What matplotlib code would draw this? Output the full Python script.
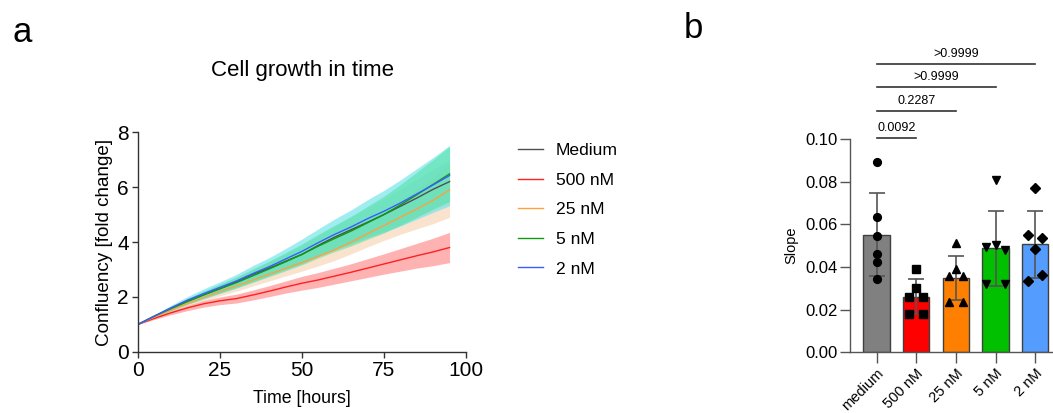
import numpy as np
import matplotlib
matplotlib.use('Agg')
import matplotlib.pyplot as plt

plt.rcParams['font.family'] = ['Liberation Sans', 'DejaVu Sans']

# ---- panel a: confluency over time (mean and SD) ----
hours = [0, 5, 10, 15, 20, 25, 30, 35, 40, 45, 50, 55, 60, 65, 70, 75, 80, 85, 90, 95]

medium_mean = [1.0, 1.3, 1.58, 1.84, 2.08, 2.3, 2.55, 2.82, 3.05, 3.3,
               3.55, 3.88, 4.18, 4.45, 4.72, 5.0, 5.3, 5.6, 5.92, 6.2]
medium_sd = [0, 0.04, 0.07, 0.1, 0.13, 0.16, 0.19, 0.22, 0.25, 0.29,
             0.33, 0.37, 0.41, 0.46, 0.51, 0.56, 0.62, 0.68, 0.74, 0.8]
nm500_mean = [1.0, 1.22, 1.42, 1.6, 1.75, 1.86, 1.94, 2.07, 2.21, 2.36,
              2.5, 2.62, 2.76, 2.9, 3.05, 3.2, 3.35, 3.5, 3.64, 3.8]
nm500_sd = [0, 0.04, 0.07, 0.1, 0.12, 0.14, 0.16, 0.18, 0.2, 0.22,
            0.25, 0.27, 0.29, 0.31, 0.34, 0.37, 0.41, 0.45, 0.5, 0.55]
nm25_mean = [1.0, 1.27, 1.52, 1.76, 1.98, 2.2, 2.4, 2.62, 2.83, 3.04,
             3.25, 3.48, 3.72, 4.0, 4.3, 4.6, 4.9, 5.2, 5.52, 5.9]
nm25_sd = [0, 0.04, 0.07, 0.1, 0.13, 0.16, 0.19, 0.22, 0.25, 0.28,
           0.31, 0.35, 0.39, 0.43, 0.48, 0.54, 0.62, 0.72, 0.85, 1.0]
nm5_mean = [1.0, 1.3, 1.57, 1.83, 2.07, 2.3, 2.52, 2.77, 3.02, 3.28,
            3.55, 3.85, 4.13, 4.4, 4.7, 5.0, 5.35, 5.72, 6.1, 6.48]
nm5_sd = [0, 0.05, 0.08, 0.11, 0.14, 0.17, 0.2, 0.24, 0.28, 0.33,
          0.38, 0.43, 0.48, 0.54, 0.6, 0.67, 0.74, 0.82, 0.9, 1.0]
nm2_mean = [1.0, 1.3, 1.6, 1.88, 2.12, 2.35, 2.58, 2.85, 3.1, 3.38,
            3.66, 3.98, 4.28, 4.55, 4.85, 5.12, 5.42, 5.75, 6.08, 6.42]
nm2_sd = [0, 0.05, 0.09, 0.13, 0.17, 0.2, 0.24, 0.29, 0.33, 0.38,
          0.45, 0.5, 0.56, 0.62, 0.69, 0.76, 0.84, 0.92, 1.0, 1.1]

series_labels = ['Medium', '500 nM', '25 nM', '5 nM', '2 nM']

# ---- panel b: slopes ----
groups = ['medium', '500 nM', '25 nM', '5 nM', '2 nM']
slope_mean = [0.0552, 0.0261, 0.0348, 0.0488, 0.0506]
slope_sd = [0.0195, 0.0082, 0.0105, 0.0175, 0.0158]
slope_points = [
    [0.0894, 0.0636, 0.0547, 0.0463, 0.0425, 0.0345],
    [0.0390, 0.0303, 0.0261, 0.0261, 0.0178, 0.0178],
    [0.0513, 0.0389, 0.0356, 0.0356, 0.0234, 0.0234],
    [0.0808, 0.0502, 0.0494, 0.0480, 0.0322, 0.0322],
    [0.0772, 0.0550, 0.0536, 0.0486, 0.0334, 0.0361],
]
p_labels = ['0.0092', '0.2287', '>0.9999', '>0.9999']

# styling
bar_colors = ['#808080', '#ff0000', '#ff8000', '#00c000', '#559cff']
markers = ['o', 's', '^', 'v', 'D']
point_dx = [
    [0, 0, 0, 0, 0, 0],
    [0, 0, -0.18, 0.18, -0.18, 0.18],
    [0, 0, -0.17, 0.17, -0.17, 0.17],
    [0, 0, -0.25, 0.25, -0.25, 0.25],
    [0, -0.17, 0.17, 0, -0.17, 0.17],
]
sig_y = [0.1006, 0.1133, 0.1244, 0.1352]

fig = plt.figure(figsize=(10.53, 4.13), dpi=100)

# ================= panel a =================
ax = fig.add_axes([0.131, 0.148, 0.3115, 0.532])
t = np.array(hours)
bands = [
    (nm500_mean, nm500_sd, '#ff8080', 0.6),
    (nm25_mean, nm25_sd, '#f5c8a0', 0.5),
    (medium_mean, medium_sd, '#c8c8c8', 0.35),
    (nm2_mean, nm2_sd, '#6ee4ea', 0.65),
    (nm5_mean, nm5_sd, '#48e096', 0.5),
]
for m, s, c, a in bands:
    m = np.array(m)
    s = np.array(s)
    ax.fill_between(t, m - s, m + s, color=c, alpha=a, linewidth=0)

line_colors = ['#505050', '#ff2020', '#ffa040', '#109a10', '#3a5cff']
means = [medium_mean, nm500_mean, nm25_mean, nm5_mean, nm2_mean]
handles = []
for m, c, lab in zip(means, line_colors, series_labels):
    h, = ax.plot(t, m, color=c, lw=1.0, label=lab)
    handles.append(h)

ax.set_xlim(0, 100)
ax.set_ylim(0, 8)
ax.set_xticks([0, 25, 50, 75, 100])
ax.set_yticks([0, 2, 4, 6, 8])
for sp in ['top', 'right']:
    ax.spines[sp].set_visible(False)
for sp in ['left', 'bottom']:
    ax.spines[sp].set_color('#333333')
    ax.spines[sp].set_linewidth(1.0)
ax.tick_params(direction='out', length=4.5, width=1, color='#333333',
               labelsize=15, pad=2)
ax.set_xlabel('Time [hours]', fontsize=12.8, labelpad=7)
ax.set_ylabel('Confluency [fold change]', fontsize=13.6, labelpad=3)

fig.legend(handles=handles, loc='upper left', bbox_to_anchor=(0.477, 0.692),
           frameon=False, fontsize=12.6, handlelength=1.43, handletextpad=0.74,
           labelspacing=0.82)

fig.text(0.287, 0.83, 'Cell growth in time', fontsize=16, ha='center', va='center')
fig.text(0.012, 0.898, 'a', fontsize=25, ha='left', va='baseline')
fig.text(0.649, 0.908, 'b', fontsize=25, ha='left', va='baseline')

# ================= panel b =================
bx = fig.add_axes([0.8072, 0.147, 0.1928, 0.5165])
xs = np.arange(len(groups))
bx.bar(xs, slope_mean, width=0.67, color=bar_colors, edgecolor='#404040',
       linewidth=1.0, zorder=2)
bx.errorbar(xs, slope_mean, yerr=slope_sd, fmt='none', ecolor='#555555',
            elinewidth=1.2, capsize=5.6, capthick=1.2, zorder=3)
for i, pts in enumerate(slope_points):
    px = [xs[i] + d for d in point_dx[i]]
    ms = 4.8 if markers[i] == 'D' else 5.6
    bx.plot(px, pts, linestyle='none', marker=markers[i], color='black',
            markersize=ms, zorder=4, clip_on=False)

for j, (yv, lab) in enumerate(zip(sig_y, p_labels)):
    x_end = xs[j + 1]
    bx.plot([xs[0], x_end], [yv, yv], color='#333333', lw=1.2, clip_on=False)
    bx.text((xs[0] + x_end) / 2, yv + 0.0017, lab, ha='center', va='bottom',
            fontsize=9)

bx.set_xlim(-0.67, 4.45)
bx.set_ylim(0, 0.10)
bx.set_yticks([0, 0.02, 0.04, 0.06, 0.08, 0.10])
bx.set_yticklabels(['%.2f' % v for v in [0, 0.02, 0.04, 0.06, 0.08, 0.10]])
bx.set_xticks(xs)
bx.set_xticklabels(groups, rotation=45, ha='right', rotation_mode='anchor')
for sp in ['top', 'right']:
    bx.spines[sp].set_visible(False)
for sp in ['left', 'bottom']:
    bx.spines[sp].set_color('#555555')
    bx.spines[sp].set_linewidth(1.0)
bx.tick_params(axis='y', direction='out', length=7, width=1, color='#555555',
               labelsize=12, pad=2)
bx.tick_params(axis='x', direction='out', length=8, width=1, color='#555555',
               labelsize=10.5, pad=2)
bx.set_ylabel('Slope', fontsize=10.5, labelpad=5)

fig.savefig('out.png', dpi=100)
